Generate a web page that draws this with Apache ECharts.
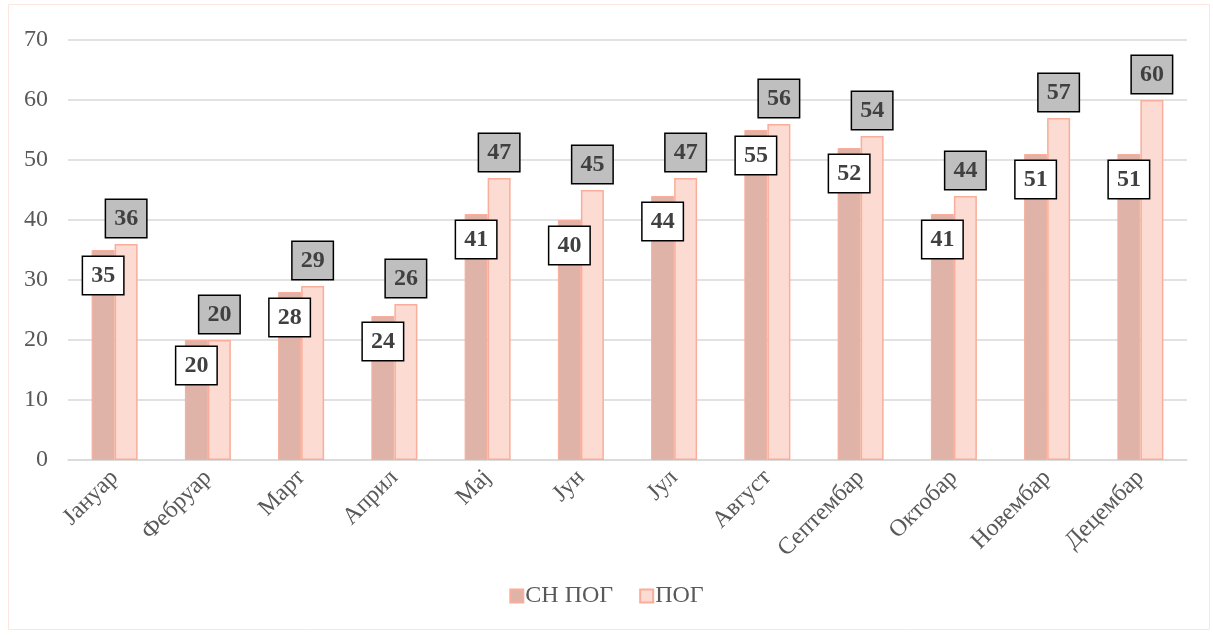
<!DOCTYPE html>
<html>
<head>
<meta charset="utf-8">
<script src="https://cdn.jsdelivr.net/npm/echarts@6/dist/echarts.min.js"></script>
<style>
  html, body { margin: 0; padding: 0; background: #fff; }
  #chart { width: 1213px; height: 635px; }
</style>
</head>
<body>
<div id="chart"></div>
<script>
const months = ['Јануар', 'Фебруар', 'Март', 'Април', 'Мај', 'Јун', 'Јул', 'Август', 'Септембар', 'Октобар', 'Новембар', 'Децембар'];
const snPog = [35, 20, 28, 24, 41, 40, 44, 55, 52, 41, 51, 51];
const pog = [36, 20, 29, 26, 47, 45, 47, 56, 54, 44, 57, 60];

const serif = '"Liberation Serif", "DejaVu Serif", serif';

const chart = echarts.init(document.getElementById('chart'), null, { renderer: 'canvas' });

// shared look of the boxed data labels
function boxLabel(pos, bg) {
    return {
        show: true,
        position: pos,
        distance: 7,
        fontFamily: serif,
        fontSize: 24,
        fontWeight: 'bold',
        color: '#404040',
        lineHeight: 24,
        backgroundColor: bg,
        borderColor: '#000',
        borderWidth: 1.5,
        padding: [7, 8, 6, 8]
    };
}

const option = {
    animation: false,
    backgroundColor: '#fff',
    graphic: [{
        type: 'rect',
        shape: { x: 8.5, y: 4.5, width: 1201, height: 625 },
        style: { fill: 'none', stroke: '#fde6e0', lineWidth: 1 },
        silent: true
    }],
    grid: {
        left: 68,
        right: 26,
        top: 40,
        bottom: 175
    },
    legend: {
        bottom: 22,
        left: 'center',
        itemWidth: 13,
        itemHeight: 13,
        itemGap: 26,
        icon: 'rect',
        textStyle: {
            fontFamily: serif,
            fontSize: 24,
            color: '#595959',
            padding: [0, 0, 0, -3]
        },
        data: ['СН ПОГ', 'ПОГ']
    },
    xAxis: {
        type: 'category',
        data: months,
        axisLine: { lineStyle: { color: '#d9d9d9', width: 1.5 } },
        axisTick: { show: false },
        axisLabel: {
            interval: 0,
            rotate: 45,
            margin: 14,
            fontFamily: serif,
            fontSize: 24,
            color: '#595959'
        }
    },
    yAxis: {
        type: 'value',
        min: 0,
        max: 70,
        interval: 10,
        axisLine: { show: false },
        axisTick: { show: false },
        splitLine: { lineStyle: { color: '#d9d9d9', width: 1.5 } },
        axisLabel: {
            margin: 20,
            fontFamily: serif,
            fontSize: 24,
            color: '#595959'
        }
    },
    series: [
        {
            name: 'СН ПОГ',
            type: 'bar',
            data: snPog,
            barWidth: 23,
            barGap: '0%',
            itemStyle: {
                color: '#e0b3a9',
                borderColor: '#f9ad9a',
                borderWidth: 1
            },
            label: boxLabel('insideTop', '#fff')
        },
        {
            name: 'ПОГ',
            type: 'bar',
            data: pog,
            barWidth: 23,
            itemStyle: {
                color: '#fcdbd3',
                borderColor: '#f9ad9a',
                borderWidth: 1.5
            },
            label: boxLabel('top', '#bfbfbf')
        }
    ]
};

chart.setOption(option);
</script>
</body>
</html>
